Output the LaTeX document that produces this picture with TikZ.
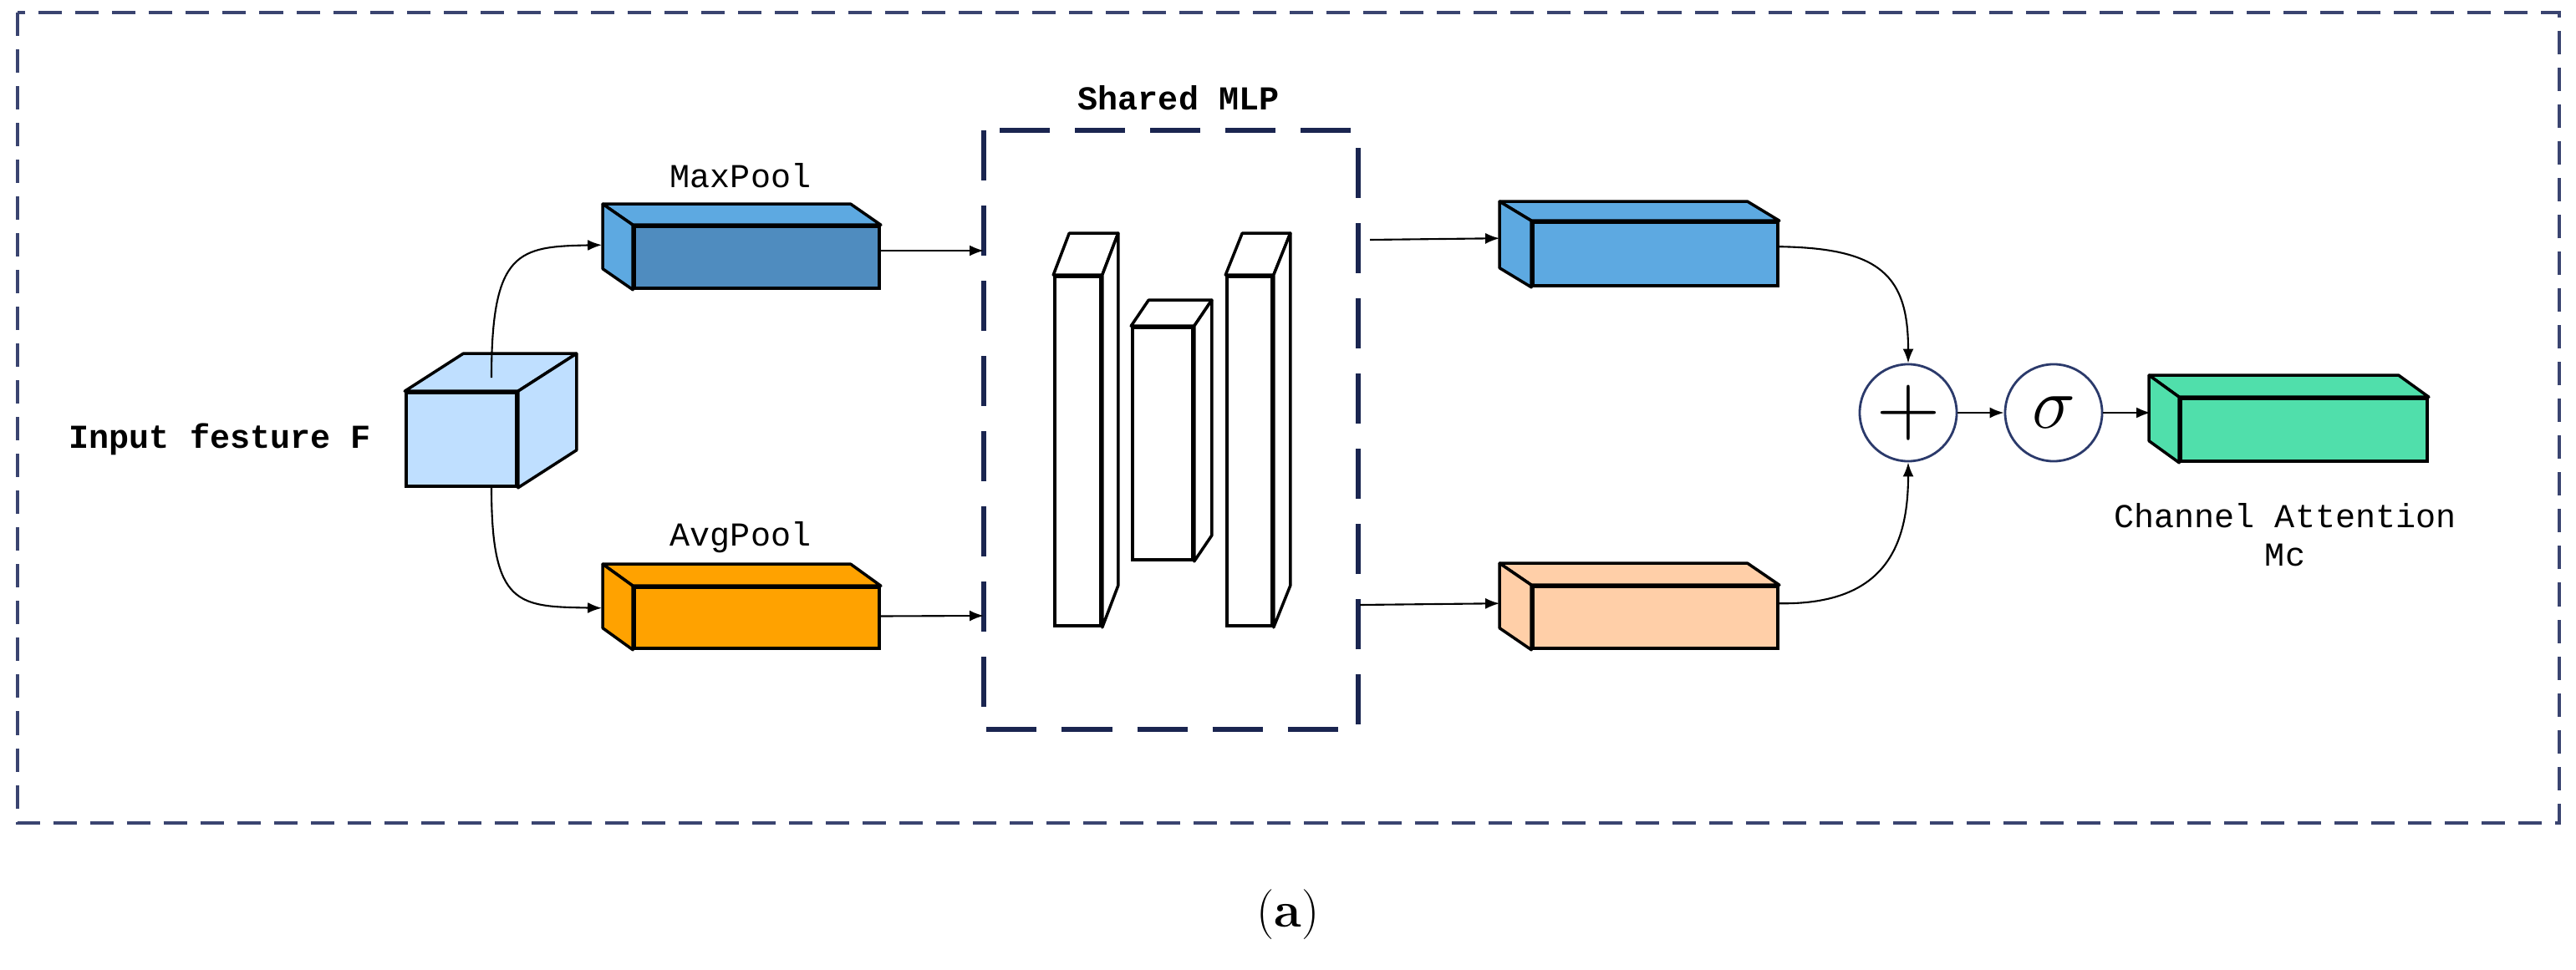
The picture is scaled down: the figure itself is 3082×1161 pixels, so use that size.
\documentclass[tikz,border=0pt]{standalone}
\usepackage{fontspec}
\setmonofont{Liberation Mono}
\usetikzlibrary{arrows.meta,calc}
\definecolor{frame}{HTML}{3A4470}
\definecolor{mlpc}{HTML}{1A2550}
\definecolor{mpfront}{HTML}{4F8CBF}
\definecolor{bluec}{HTML}{5DA9E1}
\definecolor{orangec}{HTML}{FFA200}
\definecolor{peach}{HTML}{FFCFA8}
\definecolor{greenc}{HTML}{50DFAB}
\definecolor{inc}{HTML}{BFDFFF}
\definecolor{circc}{HTML}{2B3A6B}
% top + left face
\newcommand\myleftprism[4]{%
  \filldraw[fill=#4,line width=1pt,line join=round] (#1.north west) -- ++(#2,#3) -- ($(#1.north east)+(#2,#3)$) -- (#1.north east) -- cycle;
  \filldraw[fill=#4,line width=1pt,line join=round] (#1.north west) -- ++(#2,#3) -- ($(#1.south west)+(#2,#3)$) -- (#1.south west) -- cycle;}
% top + right face
\newcommand\myrightprism[4]{%
  \filldraw[fill=#4,line width=1pt,line join=round] (#1.north west) -- ++(#2,#3) -- ($(#1.north east)+(#2,#3)$) -- (#1.north east) -- cycle;
  \filldraw[fill=#4,line width=1pt,line join=round] (#1.north east) -- ++(#2,#3) -- ($(#1.south east)+(#2,#3)$) -- (#1.south east) -- cycle;}
\begin{document}
\begin{tikzpicture}[x=0.01cm,y=-0.01cm,
  box/.style={draw,line width=1pt,rectangle,inner sep=0pt},
  lbl/.style={font=\fontsize{11.4}{13}\selectfont\ttfamily},
  arr/.style={-{Latex[length=0.17cm,width=0.13cm]},line width=0.6pt},
  circ/.style={draw=circc,line width=0.8pt,circle,minimum size=1.16cm,inner sep=0pt,fill=white}]
\useasboundingbox (0,0) rectangle (3082,1161);
\draw[frame,line width=0.9pt,dash pattern=on 0.28cm off 0.16cm] (21,15) rectangle (3062,985);
\draw[mlpc,line width=1.8pt,dash pattern=on 0.6cm off 0.3cm] (1177,156) rectangle (1625,873);
\node[lbl,font=\fontsize{11.4}{13}\selectfont\ttfamily\bfseries] (mlpl) at (1410,117) {Shared MLP};

% input cube
\node[box,fill=inc,minimum width=1.32cm,minimum height=1.12cm] (in) at (552,526) {};
\myrightprism{in}{70}{-45}{inc}
\node[lbl,font=\fontsize{11.4}{13}\selectfont\ttfamily\bfseries,anchor=east] (inl) at (456,526) {Input festure F};

% pools
\node[box,fill=mpfront,minimum width=2.93cm,minimum height=0.74cm] (mp) at (905.5,308) {};
\myleftprism{mp}{-36}{-25}{bluec}
\node[lbl] (mpl) at (886,210) {MaxPool};
\node[box,fill=orangec,minimum width=2.93cm,minimum height=0.73cm] (ap) at (905.5,739.5) {};
\myleftprism{ap}{-36}{-26}{orangec}
\node[lbl] (apl) at (886,643) {AvgPool};

% MLP bars
\node[box,fill=white,minimum width=0.55cm,minimum height=4.18cm] (b1) at (1289.5,540) {};
\myrightprism{b1}{19}{-50}{white}
\node[box,fill=white,minimum width=0.72cm,minimum height=2.78cm] (b2) at (1391,531) {};
\myrightprism{b2}{21}{-31}{white}
\node[box,fill=white,minimum width=0.54cm,minimum height=4.18cm] (b3) at (1495,540) {};
\myrightprism{b3}{20}{-50}{white}

% outputs
\node[box,fill=bluec,minimum width=2.93cm,minimum height=0.76cm] (o1) at (1980.5,304) {};
\myleftprism{o1}{-38}{-23}{bluec}
\node[box,fill=peach,minimum width=2.93cm,minimum height=0.74cm] (o2) at (1980.5,739) {};
\myleftprism{o2}{-38}{-26}{peach}

\node[circ] (plus) at (2283,494) {\fontsize{30}{30}\selectfont +};
\node[circ] (sig) at (2457,494) {\fontsize{28}{28}\selectfont$\sigma$};

\node[box,fill=greenc,minimum width=2.95cm,minimum height=0.75cm] (g) at (2756.5,514.5) {};
\myleftprism{g}{-36}{-26}{greenc}
\node[lbl,align=center] (gl) at (2734,640) {Channel Attention\\Mc};

\node[font=\fontsize{17}{20}\selectfont] (cap) at (1541,1095) {(\textbf{a})};

% connectors
\coordinate (inT) at ($(in.north)+(36,-16)$);
\coordinate (inB) at ($(in.south)+(36,0)$);
\coordinate (mpIn) at ($(mp.north west)+(-37,24)$);
\coordinate (apIn) at ($(ap.south west)+(-37,-50)$);
\draw[arr] (inT) .. controls (588,300) and (620,295) .. (mpIn);
\draw[arr] (inB) .. controls (588,726) and (620,726) .. (apIn);
\coordinate (mpOut) at ($(mp.east)+(0,-8)$);
\coordinate (mlpIn1) at (1177,300);
\draw[arr] (mpOut) -- (mlpIn1);
\coordinate (apOut) at ($(ap.east)+(0,-2)$);
\coordinate (mlpIn2) at (1177,737);
\draw[arr] (apOut) -- (mlpIn2);
\coordinate (mlpOut1) at (1639,287);
\coordinate (o1In) at ($(o1.north west)+(-38,21)$);
\draw[arr] (mlpOut1) -- (o1In);
\coordinate (mlpOut2) at (1627,724);
\coordinate (o2In) at ($(o2.north west)+(-38,22)$);
\draw[arr] (mlpOut2) -- (o2In);
\coordinate (o1Out) at ($(o1.north east)+(0,31)$);
\coordinate (o2Out) at ($(o2.north east)+(0,22)$);
\draw[arr] (o1Out) .. controls (2250,297) and (2283,330) .. (plus.north);
\draw[arr] (o2Out) .. controls (2250,724) and (2283,660) .. (plus.south);
\draw[arr] (plus.east) -- (sig.west);
\coordinate (gIn) at (2573,494);
\draw[arr] (sig.east) -- (gIn);
\end{tikzpicture}
\end{document}
